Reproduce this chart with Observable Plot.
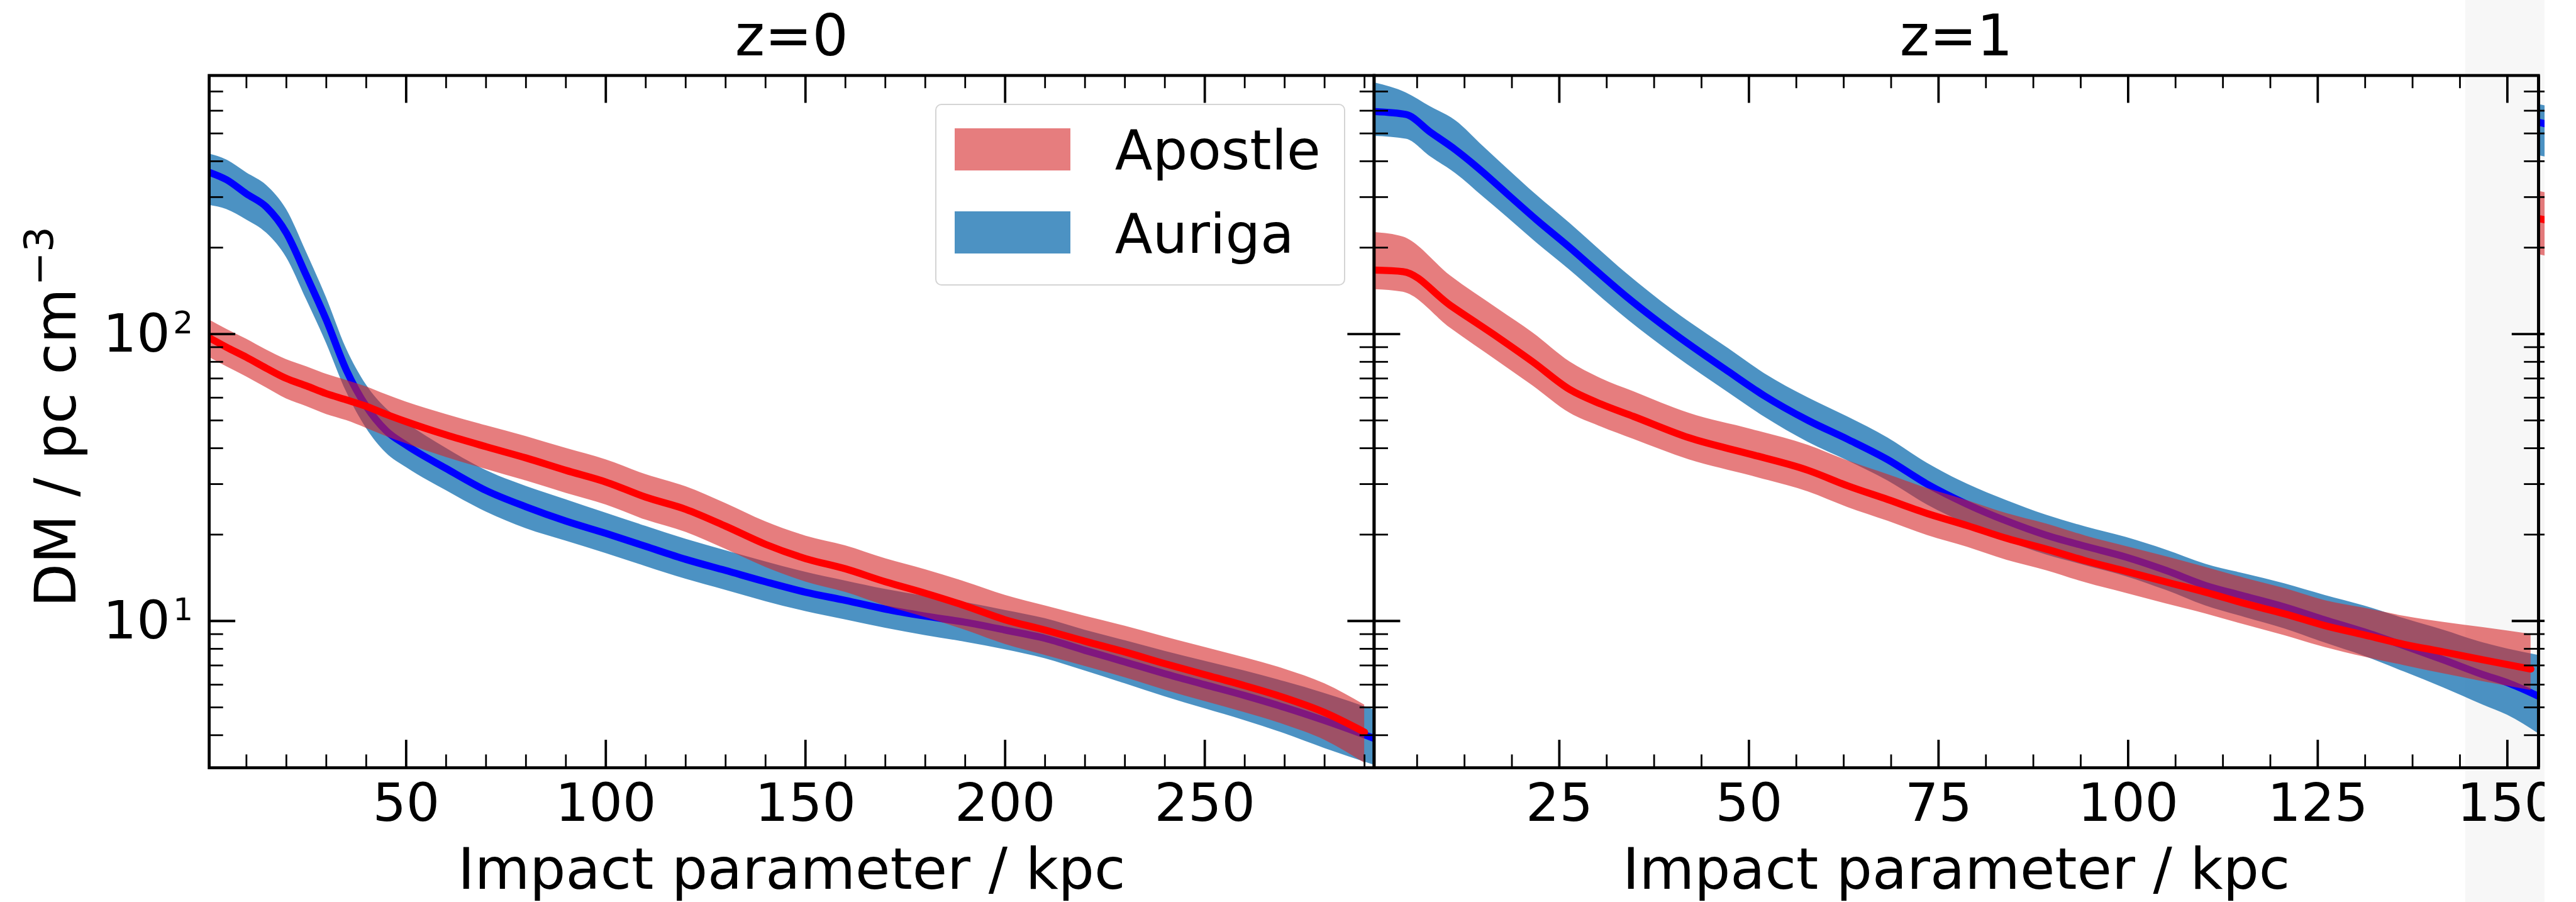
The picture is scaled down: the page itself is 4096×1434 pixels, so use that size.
<!DOCTYPE html>
<html><head><meta charset="utf-8">
<script src="https://cdn.jsdelivr.net/npm/d3@7"></script>
<script src="https://cdn.jsdelivr.net/npm/@observablehq/plot@0.6"></script>
<style>
html,body{margin:0;padding:0;background:#fff;}
#root{position:relative;width:4096px;height:1434px;overflow:hidden;background:#fff;font-family:"DejaVu Sans",sans-serif;}
#crop{position:absolute;left:0;top:0;width:4046px;height:1434px;overflow:hidden;}
.abs{position:absolute;}
</style></head><body><div id="root"><div id="crop"></div></div>
<script>
// ---------- data: z = 0 ----------
const xAuriga0   = [0.7, 5, 10, 15, 20, 25, 30, 35, 40, 45, 50, 60, 70, 80, 90, 100, 110, 120, 130, 140, 150, 160, 170, 180, 190, 200, 210, 220, 230, 240, 250, 260, 270, 280, 292.4];
const auriga0    = [366, 345, 308, 277, 225, 160, 112, 75, 56, 46, 41, 34, 28.5, 25, 22.3, 20.2, 18.2, 16.4, 15.0, 13.7, 12.6, 11.8, 11.0, 10.4, 9.9, 9.3, 8.7, 7.9, 7.2, 6.55, 6.0, 5.5, 5.0, 4.5, 3.9];
const auriga0Lo  = [281, 272, 250, 225, 185, 132, 93, 63, 47, 38.5, 34.3, 28.5, 24, 21, 19, 17.2, 15.5, 14, 12.8, 11.7, 10.8, 10.1, 9.45, 8.9, 8.45, 7.95, 7.4, 6.7, 6.05, 5.45, 4.95, 4.5, 4.05, 3.6, 3.15];
const auriga0Hi  = [424, 405, 365, 330, 272, 193, 134, 89, 66.5, 55, 49, 40, 33.5, 29.5, 26.5, 23.8, 21.4, 19.3, 17.6, 16.1, 14.8, 13.8, 12.9, 12.2, 11.6, 10.9, 10.2, 9.3, 8.55, 7.85, 7.25, 6.7, 6.15, 5.6, 4.9];

const xApostle0  = [0.7, 5, 10, 15, 20, 25, 30, 35, 40, 45, 50, 60, 70, 80, 90, 100, 110, 120, 130, 140, 150, 160, 170, 180, 190, 200, 210, 220, 230, 240, 250, 260, 270, 280, 290];
const apostle0   = [97, 90, 83, 76, 70, 66, 62, 59, 56, 52.5, 49.5, 44.5, 40.5, 37, 33.5, 30.5, 27, 24.5, 21.4, 18.5, 16.5, 15.2, 13.7, 12.5, 11.3, 10.1, 9.3, 8.5, 7.8, 7.1, 6.5, 5.95, 5.4, 4.8, 4.1];
const apostle0Lo = [83, 77, 71, 65, 59.5, 56, 52.5, 50, 47, 44, 41.5, 37.2, 33.8, 30.8, 27.9, 25.4, 22.5, 20.4, 17.8, 15.4, 13.7, 12.6, 11.3, 10.3, 9.3, 8.3, 7.6, 6.95, 6.35, 5.75, 5.25, 4.8, 4.35, 3.85, 3.2];
const apostle0Hi = [112, 104, 96, 88, 81.5, 77, 72.5, 69, 65.5, 61.5, 58, 52.5, 48, 44, 40, 36.5, 32.4, 29.4, 25.7, 22.2, 19.8, 18.3, 16.5, 15.1, 13.7, 12.3, 11.3, 10.4, 9.6, 8.8, 8.1, 7.45, 6.8, 6.05, 5.1];

// ---------- data: z = 1 ----------
const xAuriga1   = [0.7, 4.8, 8, 11.3, 15, 18, 22, 26.4, 30, 33.7, 40, 47.3, 52, 57.8, 63, 68.3, 73.5, 78.8, 84, 89.2, 94.4, 99.7, 105, 110.2, 115.4, 120.6, 125.9, 131.1, 136.4, 141.6, 146.8, 150, 154.1];
const auriga1    = [596, 582, 505, 439, 365, 310, 250, 200, 165, 136, 101, 74, 61, 50, 43, 36.5, 30, 25.5, 22.3, 19.9, 18.2, 16.7, 15, 13.3, 12.2, 11.2, 10.1, 9.17, 8.2, 7.32, 6.5, 6.1, 5.47];
const auriga1Lo  = [489, 478, 415, 363, 300, 257, 208, 167, 138, 114, 85, 62.5, 51.5, 42, 36.2, 30.8, 25.4, 21.7, 19, 17, 15.6, 14.3, 12.8, 11.3, 10.3, 9.4, 8.4, 7.55, 6.65, 5.85, 5.1, 4.7, 4.05];
const auriga1Hi  = [750, 693, 620, 555, 450, 380, 305, 243, 200, 164, 121, 89, 73, 60, 51.5, 43.5, 35.5, 30, 26.3, 23.4, 21.3, 19.6, 17.7, 15.8, 14.6, 13.5, 12.3, 11.3, 10.2, 9.3, 8.4, 8.0, 7.6];

const xApostle1  = [0.7, 4.4, 10.6, 17, 21.5, 26.4, 30.5, 34.8, 42.1, 50.4, 57.8, 63, 68.3, 73.5, 78.8, 84, 89.2, 94.4, 99.7, 104.9, 110.2, 115.4, 120.6, 125.9, 131.1, 136.4, 141.6, 146.8, 153.1];
const apostle1   = [167, 165, 126, 97, 80, 64, 57, 51.6, 43.5, 38, 33.5, 29.6, 26.5, 23.7, 21.5, 19.4, 17.8, 16.2, 14.9, 13.7, 12.6, 11.5, 10.6, 9.64, 8.95, 8.29, 7.8, 7.32, 6.8];
const apostle1Lo = [143, 140, 105, 80, 66, 53, 47.5, 43, 36.5, 32, 28.2, 24.9, 22.3, 19.9, 18.1, 16.3, 15, 13.6, 12.5, 11.5, 10.6, 9.7, 8.9, 8.1, 7.5, 7.0, 6.55, 6.15, 5.73];
const apostle1Hi = [226, 218, 160, 122, 101, 80, 70, 63, 53, 46.5, 41, 36.2, 32.4, 29, 26.3, 23.7, 21.8, 19.8, 18.2, 16.8, 15.4, 14.1, 13, 11.8, 11.1, 10.4, 9.9, 9.5, 9.0];

// ---------- data: third panel (only its left edge is visible) ----------
const xAuriga2   = [0.7, 1.5];
const auriga2    = [546, 540];
const auriga2Lo  = [418, 414];
const auriga2Hi  = [630, 624];
const xApostle2  = [0.7, 1.5];
const apostle2   = [252, 250];
const apostle2Lo = [189, 187];
const apostle2Hi = [314, 311];

// ---------- ticks & labels ----------
const panelTitles = ["z=0", "z=1"];
const xAxisLabel = "Impact parameter / kpc";
const yAxisLabel = "DM / pc cm";
const yAxisLabelExp = "\u22123";
const seriesNames = ["Apostle", "Auriga"];
const xMajor0 = [50, 100, 150, 200, 250];
const xMinor0 = [10, 20, 30, 40, 60, 70, 80, 90, 110, 120, 130, 140, 160, 170, 180, 190, 210, 220, 230, 240, 260, 270, 280, 290];
const xMajor1 = [25, 50, 75, 100, 125, 150];
const xMinor1 = [6.25, 12.5, 18.75, 31.25, 37.5, 43.75, 56.25, 62.5, 68.75, 81.25, 87.5, 93.75, 106.25, 112.5, 118.75, 131.25, 137.5, 143.75];
const yMajor = [10, 100];
const yMajorExp = ["1", "2"];
const yMinor = [4, 5, 6, 7, 8, 9, 20, 30, 40, 50, 60, 70, 80, 90, 200, 300, 400, 500, 600, 700];
const yDomain = [3.08, 796];

// ---------- styling ----------
const H = 1434;
const FRAME_TOP = 119.5, FRAME_BOTTOM = 1220.1;
const innerH = FRAME_BOTTOM - FRAME_TOP;
const apostleFill = "#d62728", apostleFillOpacity = 0.6, apostleLine = "#ff0000";
const aurigaFill = "#1f77b4", aurigaFillOpacity = 0.8, aurigaLine = "#0000ff";
const LW = 11.3;
const TICK_FS = 84, LABEL_FS = 90;

const rows = (xs, med, lo, hi) => xs.map((x, i) => ({x, med: med[i], lo: lo[i], hi: hi[i]}));

function bandMarks(aur, apo) {
  return [
    Plot.areaY(aur, {x: "x", y1: "lo", y2: "hi", fill: aurigaFill, fillOpacity: aurigaFillOpacity, curve: "monotone-x", clip: true}),
    Plot.lineY(aur, {x: "x", y: "med", stroke: aurigaLine, strokeWidth: LW, curve: "monotone-x", clip: true}),
    Plot.areaY(apo, {x: "x", y1: "lo", y2: "hi", fill: apostleFill, fillOpacity: apostleFillOpacity, curve: "monotone-x", clip: true}),
    Plot.lineY(apo, {x: "x", y: "med", stroke: apostleLine, strokeWidth: LW, curve: "monotone-x", clip: true})
  ];
}

function tickMarks(innerW, xMajor, xMinor, sides) {
  const m = [];
  const tk = {stroke: "#000"};
  if (xMajor) {
    m.push(Plot.tickX(xMajor, {x: d => d, insetTop: innerH - 44, strokeWidth: 3.8, ...tk}));
    m.push(Plot.tickX(xMajor, {x: d => d, insetBottom: innerH - 44, strokeWidth: 3.8, ...tk}));
    m.push(Plot.tickX(xMinor, {x: d => d, insetTop: innerH - 20.7, strokeWidth: 2.8, ...tk}));
    m.push(Plot.tickX(xMinor, {x: d => d, insetBottom: innerH - 20.7, strokeWidth: 2.8, ...tk}));
  }
  if (sides.left) {
    m.push(Plot.tickY(yMajor, {y: d => d, insetRight: innerW - 42, strokeWidth: 3.8, ...tk}));
    m.push(Plot.tickY(yMinor, {y: d => d, insetRight: innerW - 22.6, strokeWidth: 2.8, ...tk}));
  }
  if (sides.right) {
    m.push(Plot.tickY(yMajor, {y: d => d, insetLeft: innerW - 42, strokeWidth: 3.8, ...tk}));
    m.push(Plot.tickY(yMinor, {y: d => d, insetLeft: innerW - 22.6, strokeWidth: 2.8, ...tk}));
  }
  return m;
}

function makePanel({left, width, frameLeft, frameRight, xDomain, marks}) {
  const svg = Plot.plot({
    width, height: H,
    marginLeft: frameLeft - left, marginRight: left + width - frameRight,
    marginTop: FRAME_TOP, marginBottom: H - FRAME_BOTTOM,
    x: {type: "linear", domain: xDomain, axis: null},
    y: {type: "log", domain: yDomain, axis: null},
    style: {background: "transparent", overflow: "visible", maxWidth: "none", fontFamily: "DejaVu Sans", color: "#000"},
    marks
  });
  svg.style.position = "absolute";
  svg.style.left = left + "px";
  svg.style.top = "0px";
  return svg;
}

const crop = document.getElementById("crop");

// grey strip at the far right (screenshot background)
const grey = document.createElement("div");
grey.className = "abs";
Object.assign(grey.style, {left: "3920px", top: "0px", width: "200px", height: H + "px", background: "#f7f7f7"});
crop.appendChild(grey);

// legend box (under the SVG)
const legendBox = document.createElement("div");
legendBox.className = "abs";
Object.assign(legendBox.style, {left: "1487px", top: "165px", width: "652px", height: "289px", boxSizing: "border-box",
  border: "2px solid #d4d4d4", borderRadius: "10px", background: "rgba(255,255,255,0.8)"});
crop.appendChild(legendBox);
const swatches = [[apostleFill, apostleFillOpacity, 204], [aurigaFill, aurigaFillOpacity, 336]];
for (const [c, o, t] of swatches) {
  const sw = document.createElement("div");
  sw.className = "abs";
  const rgb = d3.rgb(c);
  Object.assign(sw.style, {left: "1518px", top: t + "px", width: "184px", height: "67px", background: `rgba(${rgb.r},${rgb.g},${rgb.b},${o})`});
  crop.appendChild(sw);
}

// ---------- Panel A (z=0) ----------
const A = {left: 0, width: 2300, frameLeft: 332.1, frameRight: 2184.4, xDomain: [0.67, 292.4]};
const innerWA = A.frameRight - A.frameLeft;
const yLabelRows = yMajor.map((v, i) => ({v, e: yMajorExp[i]}));
A.marks = [
  ...bandMarks(rows(xAuriga0, auriga0, auriga0Lo, auriga0Hi), rows(xApostle0, apostle0, apostle0Lo, apostle0Hi)),
  ...tickMarks(innerWA, xMajor0, xMinor0, {left: true, right: true}),
  Plot.frame({stroke: "#000", strokeWidth: 4.7}),
  Plot.text(xMajor0, {x: d => d, frameAnchor: "bottom", dy: 84.3, lineAnchor: "bottom", text: d => String(d), fontSize: TICK_FS}),
  Plot.text(yLabelRows, {y: "v", frameAnchor: "left", text: () => "10", textAnchor: "end", dx: -62, dy: 28, lineAnchor: "bottom", fontSize: TICK_FS}),
  Plot.text(yLabelRows, {y: "v", frameAnchor: "left", text: "e", textAnchor: "start", dx: -57.4, dy: -1.5, lineAnchor: "bottom", fontSize: 50}),
  Plot.text([panelTitles[0]], {frameAnchor: "top", dy: -32, lineAnchor: "bottom", fontSize: LABEL_FS}),
  Plot.text([xAxisLabel], {frameAnchor: "bottom", dy: 192, lineAnchor: "bottom", fontSize: LABEL_FS}),
  Plot.text([yAxisLabel], {frameAnchor: "left", rotate: -90, textAnchor: "start", lineAnchor: "bottom", dx: -213, dy: 295, fontSize: LABEL_FS}),
  Plot.text([yAxisLabelExp], {frameAnchor: "left", rotate: -90, textAnchor: "start", lineAnchor: "bottom", dx: -249, dy: -216, fontSize: 64}),
  Plot.text([seriesNames[0]], {frameAnchor: "top-left", dx: 1772.3 - 332.1, dy: 268.1 - FRAME_TOP, textAnchor: "start", lineAnchor: "bottom", fontSize: 87.5}),
  Plot.text([seriesNames[1]], {frameAnchor: "top-left", dx: 1772.3 - 332.1, dy: 401.7 - FRAME_TOP, textAnchor: "start", lineAnchor: "bottom", fontSize: 87.5})
];
crop.appendChild(makePanel(A));

// ---------- Panel B (z=1) ----------
const B = {left: 2000, width: 2096, frameLeft: 2184.4, frameRight: 4035.8, xDomain: [0.58, 154.1]};
const innerWB = B.frameRight - B.frameLeft;
B.marks = [
  ...bandMarks(rows(xAuriga1, auriga1, auriga1Lo, auriga1Hi), rows(xApostle1, apostle1, apostle1Lo, apostle1Hi)),
  ...tickMarks(innerWB, xMajor1, xMinor1, {left: true, right: true}),
  Plot.frame({stroke: "#000", strokeWidth: 4.7}),
  Plot.text(xMajor1, {x: d => d, frameAnchor: "bottom", dy: 84.3, lineAnchor: "bottom", text: d => String(d), fontSize: TICK_FS}),
  Plot.text([panelTitles[1]], {frameAnchor: "top", dy: -32, lineAnchor: "bottom", fontSize: LABEL_FS}),
  Plot.text([xAxisLabel], {frameAnchor: "bottom", dy: 192, lineAnchor: "bottom", fontSize: LABEL_FS})
];
crop.appendChild(makePanel(B));

// ---------- Panel C (third panel, cut off at the right) ----------
const C = {left: 3935.8, width: 160.2, frameLeft: 4035.8, frameRight: 4096, xDomain: [0.58, 5.57]};
const innerWC = C.frameRight - C.frameLeft;
C.marks = [
  ...bandMarks(rows(xAuriga2, auriga2, auriga2Lo, auriga2Hi), rows(xApostle2, apostle2, apostle2Lo, apostle2Hi)),
  ...tickMarks(innerWC, null, null, {left: true, right: false}),
  Plot.ruleX([0.58], {stroke: "#000", strokeWidth: 4.7})
];
crop.appendChild(makePanel(C));
</script></body></html>
